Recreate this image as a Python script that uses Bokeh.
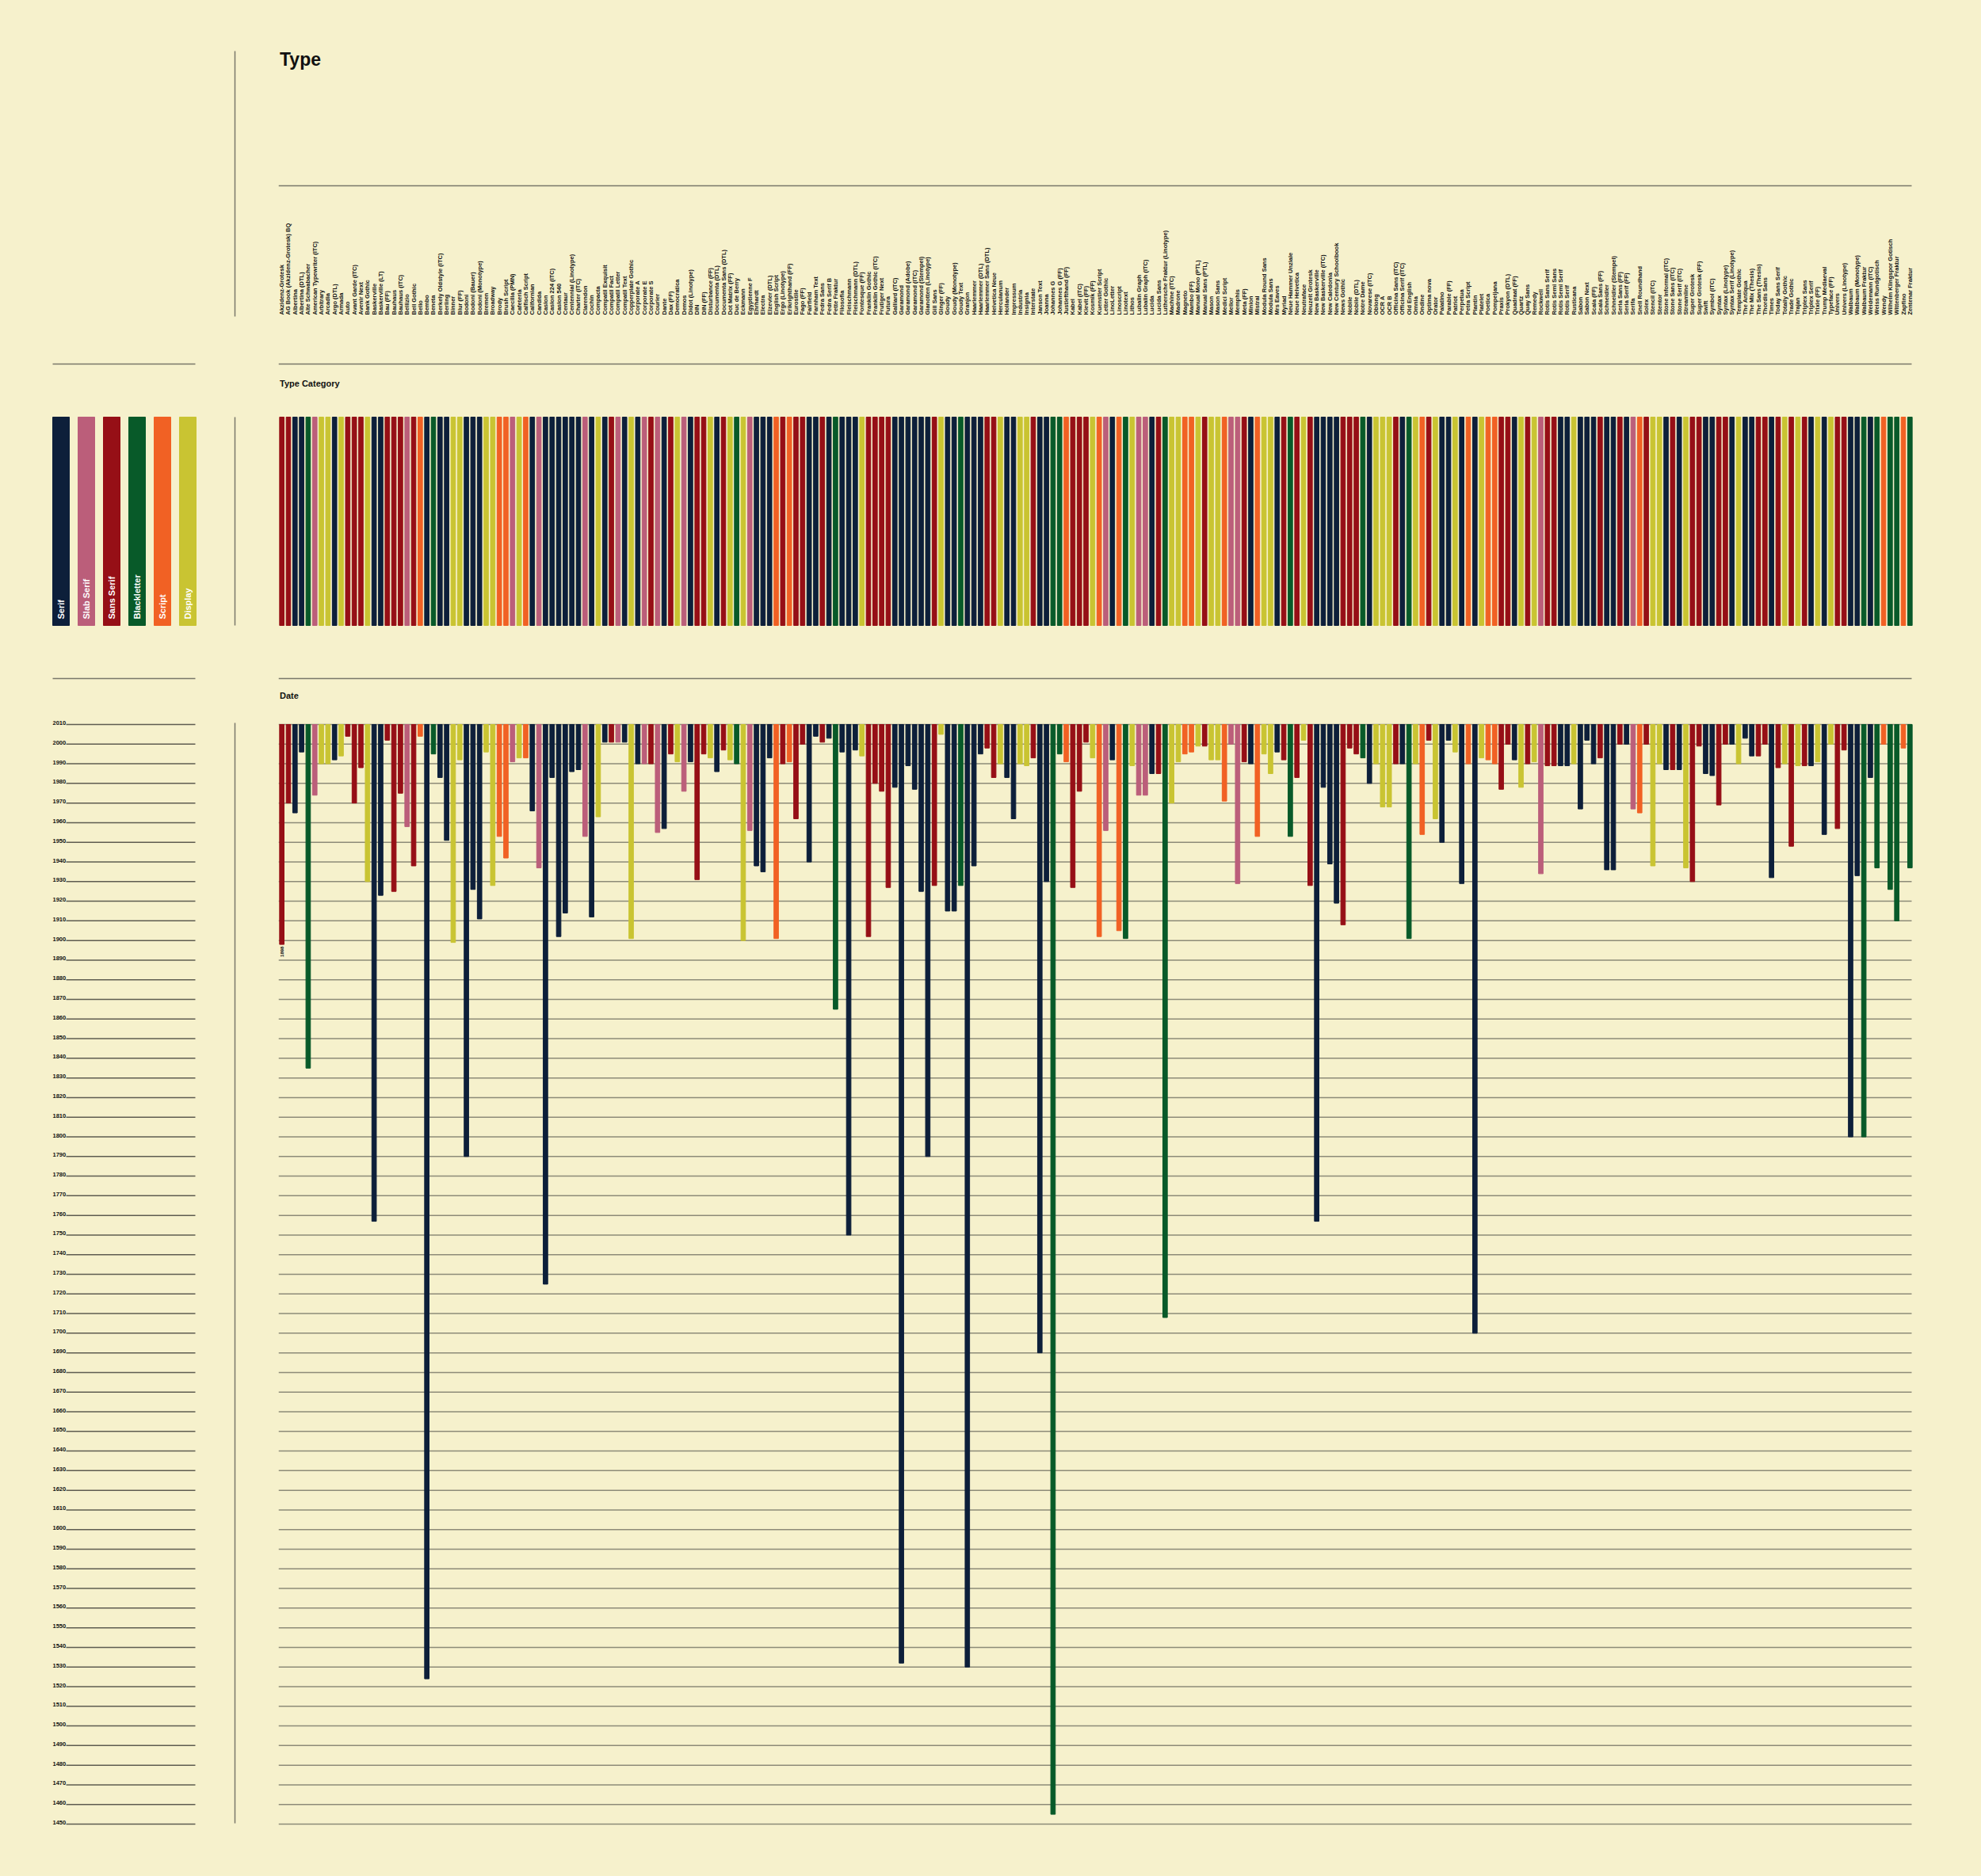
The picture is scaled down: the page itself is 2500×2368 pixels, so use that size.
import numpy as np
from bokeh.plotting import figure
from bokeh.layouts import column, row
from bokeh.models import Range1d, ColumnDataSource
from bokeh.embed import file_html
from bokeh.resources import INLINE
from bokeh.core.properties import value

BG = "#f6f1cc"
INK = "#111111"
RULE = "#7a786a"
FONT = value("Liberation Sans")

names = [
"Akzidenz-Grotesk","AG Book (Akzidenz-Grotesk) BQ","Albertina","Albertina (DTL)","Alte Schwabacher","American Typewriter (ITC)","Arbitrary","Arcadia","Argo (DTL)","Armada",
"Auto","Avant Garde (ITC)","Avenir Next","Bank Gothic","Baskerville","Baskerville (LT)","Bau (FF)","Bauhaus","Bauhaus (ITC)","Bellizio",
"Bell Gothic","Bello","Bembo","Beneta","Berkely Oldstyle (ITC)","Berling","Binner","Blur (FF)","Bodoni","Bodoni (Bauer)",
"Bodoni (Monotype)","Bremen","Broadway","Brody","Brush Script","Caecilia (PMN)","Cafeteria","Calfisch Script","Californian","Candida",
"Caslon","Caslon 224 (ITC)","Caslon 540","Centaur","Centennial (Linotype)","Charter (ITC)","Clarendon","Cochin","Compacta","Compatil Exquisit",
"Compatil Fact","Compatil Letter","Compatil Text","Copperplate Gothic","Corporate A","Corporate E","Corporate S","Courier","Dante","Dax (FF)",
"Democratica","Demos","Didot (Linotype)","DIN","DIN (FF)","Disturbance (FF)","Documenta (DTL)","Documenta Sans (DTL)","Dot Matrix (FF)","Duc de Berry",
"Eckmann","Egyptienne F","Ehrhardt","Electra","Elzevier (DTL)","English Script","Ergo (Linotype)","Erikrighthand (FF)","Eurostile","Fago (FF)",
"Fairfield","Farnham Text","Fedra Sans","Fedra Serif B","Fette Fraktur","Filosofia","Fleischmann","Fleischmann (DTL)","Fontesque (FF)","Franklin Gothic",
"Franklin Gothic (ITC)","Frutiger Next","Futura","Galliard (ITC)","Garamond","Garamond (Adobe)","Garamond (ITC)","Garamond (Stempel)","Gianotten (Linotype)","Gill Sans",
"Ginger (FF)","Goudy","Goudy (Monotype)","Goudy Text","Granjon","Haarlemmer","Haarlemmer (DTL)","Haarlemmer Sans (DTL)","Helvetica Neue","Herculanum",
"Hollander","Impressum","Industria","Insignia","Interstate","Janson Text","Joanna","Johannes G","Johannes G (FF)","Justlefthand (FF)",
"Kabel","Kabel (ITC)","Kievit (FF)","Kosmik (FF)","Kuenstler Script","Letter Gothic","LinoLetter","Linoscript","Linotext","Lithos",
"Lubalin Graph","Lubalin Graph (ITC)","Lucida","Lucida Sans","Luthersche Fraktur (Linotype)","Machine (ITC)","Madrone","Magneto","Mambo (FF)","Manual Mono (PTL)",
"Manual Sans (PTL)","Mason","Mason Sans","Medici Script","Mellor","Memphis","Meta (FF)","Minion","Mistral","Modula Round Sans",
"Modula Sans","Mrs Eaves","Myriad","Neue Hammer Unziale","Neue Helvetica","Neutraface","Neuzeit Grotesk","New Baskerville","New Baskerville (ITC)","New Caledonia",
"New Century Schoolbook","News Gothic","Nobile","Nobile (DTL)","Notre Dame","Novarese (ITC)","Oblong","OCR A","OCR B","Officina Sans (ITC)",
"Officina Serif (ITC)","Old English","Omnia","Ondine","Optima nova","Orator","Palatino","Parable (FF)","Patriot","Perpetua",
"Petra Script","Plantin","Platelet","Poetica","Pompeijana","Praxis","Prokyon (DTL)","Quadraat (FF)","Quartz","Quay Sans",
"Remedy","Rockwell","Rotis Sans Serif","Rotis Semi Sans","Rotis Semi Serif","Rotis Serif","Rusticana","Sabon","Sabon Next","Scala (FF)",
"Scala Sans (FF)","Schneidler","Schneidler (Stempel)","Seria Sans (FF)","Seria Serif (FF)","Serifa","Snell Roundhand","Solex","Stencil (ITC)","Stentor",
"Stone Informal (ITC)","Stone Sans (ITC)","Stone Serif (ITC)","Streamline","Super Grotesk","Super Grotesk (FF)","Swift","Symbol (ITC)","Syntax","Syntax (Linotype)",
"Syntax Serif (Linotype)","Template Gothic","The Antiqua","The Mix (Thesis)","The Sans (Thesis)","Thordis Sans","Times","Today Sans Serif","Totally Gothic","Trade Gothic",
"Trajan","Triplex Sans","Triplex Serif","Trixie (FF)","Trump Mediaeval","Typeface (FF)","Univers","Univers (Linotype)","Walbaum","Walbaum (Monotype)",
"Walbaum Fraktur","Weidemann (ITC)","Weiss Rundgotisch","Wendy","Wilhelm Klingspor Gotisch","Wittenberger Fraktur","Zapfino","Zentenar Fraktur",
]

# category codes: Se Serif, Sl Slab Serif, Sa Sans Serif, Bl Blackletter, Sc Script, Di Display
category_codes = (
"Sa Sa Se Se Bl Sl Di Di Se Di "
"Sa Sa Sa Di Se Se Sa Sa Sa Sl "
"Sa Sc Se Bl Se Se Di Di Se Se "
"Se Di Di Sc Sc Sl Di Sc Se Sl "
"Se Se Se Se Se Se Sl Se Di Se "
"Sa Sl Se Di Se Sl Sa Sl Se Sa "
"Di Sl Se Sa Sa Di Se Sa Di Bl "
"Di Sl Se Se Se Sc Sa Sc Sa Sa "
"Se Se Sa Se Bl Se Se Se Di Sa "
"Sa Sa Sa Se Se Se Se Se Se Sa "
"Di Se Se Bl Se Se Se Sa Sa Di "
"Se Se Di Di Sa Se Se Bl Bl Sc "
"Sa Sa Sa Di Sc Sl Se Sc Bl Di "
"Sl Sl Se Sa Bl Di Di Sc Sc Di "
"Sa Di Di Sc Sl Sl Sa Se Sc Di "
"Di Se Sa Bl Sa Di Sa Se Se Se "
"Se Sa Sa Sa Bl Se Di Di Di Sa "
"Se Bl Di Sc Sa Di Se Se Di Se "
"Sc Se Di Sc Sc Sa Sa Se Di Sa "
"Di Sl Sa Sa Se Se Di Se Se Se "
"Sa Se Se Sa Se Sl Sc Sa Di Di "
"Se Sa Se Di Sa Sa Se Se Sa Sa "
"Se Di Se Se Sa Sa Se Sa Di Sa "
"Di Sa Se Di Se Di Sa Sa Se Se "
"Bl Se Bl Sc Bl Bl Sc Bl"
).split()

years = [
1898,1970,1965,1996,1835,1974,1990,1990,1992,1994,
2004,1970,1988,1930,1757,1923,2002,1925,1975,1958,
1938,2004,1524,1995,1983,1951,1899,1992,1790,1926,
1911,1996,1928,1953,1942,1991,1993,1993,1966,1937,
1725,1983,1902,1914,1986,1987,1953,1912,1963,2001,
2001,2001,2001,1901,1990,1990,1990,1955,1957,1995,
1991,1976,1991,1931,1995,1993,1986,1997,1992,1990,
1900,1956,1938,1935,1993,1901,1990,1991,1962,2000,
1940,2004,2001,2003,1865,1996,1750,1997,1994,1902,
1980,1976,1927,1978,1532,1989,1977,1925,1790,1928,
2005,1915,1915,1928,1530,1938,1995,1998,1983,1990,
1983,1962,1990,1989,1993,1690,1930,1455,1995,1991,
1927,1976,2001,1993,1902,1956,1992,1905,1901,1989,
1974,1974,1985,1985,1708,1970,1991,1995,1996,1999,
1999,1992,1992,1971,2000,1929,1991,1990,1953,1995,
1985,1996,1992,1953,1983,2002,1928,1757,1978,1939,
1919,1908,1998,1995,1993,1980,1990,1968,1968,1990,
1990,1901,1990,1954,2002,1962,1950,2002,1996,1929,
1990,1700,1993,1992,1990,1977,2000,1992,1978,1990,
1991,1934,1989,1989,1989,1989,1990,1967,2002,1990,
1993,1936,1936,2000,2000,1967,1965,2000,1938,1990,
1987,1987,1987,1937,1930,1999,1985,1984,1969,2000,
2000,1990,2003,1994,1994,2000,1932,1988,1990,1948,
1989,1989,1989,1991,1954,2000,1957,1997,1800,1933,
1800,1983,1937,2000,1926,1910,1998,1937,
]

cat_codes = ["Se", "Sl", "Sa", "Bl", "Sc", "Di"]
cat_labels = ["Serif", "Slab Serif", "Sans Serif", "Blackletter", "Script", "Display"]
cat_colors = ["#0d1f3a", "#bb5e7a", "#960f16", "#085a29", "#f16124", "#c9c432"]

tick_years = list(range(1450, 2011, 10))
tick_labels = [str(t) for t in tick_years]
top_year = 2010

n = len(names)
color_of = dict(zip(cat_codes, cat_colors))
src = ColumnDataSource(dict(
    x=list(range(n)),
    name=names,
    year=years,
    color=[color_of[c] for c in category_codes],
))

# ---------------- layout geometry (page pixels, page origin at 0,0) ----------------
LW, RW = 298, 2202
HA, HB, HC = 440, 390, 1538
A0, B0, C0 = 0, 440, 830
RB_L = 53                     # right figure left border -> frame starts at page x 351
FRAME_W = 2063
RB_R = RW - RB_L - FRAME_W
XR = (-0.5, n - 0.5)
X_END_LINE = n - 0.5 - 2.0 / (FRAME_W / n)
TX = -0.32                    # x of section titles (data units)


def make_fig(w, h, xr, yr, bl=0, br=0):
    p = figure(width=w, height=h, x_range=Range1d(*xr), y_range=Range1d(*yr),
               output_backend="svg", toolbar_location=None,
               x_axis_location=None, y_axis_location=None,
               min_border_left=bl, min_border_right=br,
               min_border_top=0, min_border_bottom=0)
    p.grid.visible = False
    p.outline_line_color = None
    p.background_fill_color = BG
    p.border_fill_color = BG
    return p


# ---------------- Band A : names ----------------
yA = (A0 + HA, A0)   # page y coordinates (flipped)
leftA = make_fig(LW, HA, (0, LW), yA)
leftA.segment(x0=[296], x1=[296], y0=[64], y1=[399], line_color=RULE, line_width=1.5)

rightA = make_fig(RW, HA, XR, yA, RB_L, RB_R)
rightA.text(x=[TX], y=[74], text=["Type"], text_font=FONT, text_font_style="bold",
            text_font_size="23px", text_color=INK, text_baseline="middle")
rightA.segment(x0=[XR[0]], x1=[X_END_LINE], y0=[234], y1=[234], line_color=RULE, line_width=1.5)
rightA.text(x="x", y=397, text="name", source=src, angle=np.pi / 2,
            text_font=FONT, text_font_style="bold", text_font_size="7.5px",
            text_color=INK, text_align="left", text_baseline="middle")

# ---------------- Band B : category strip ----------------
b_top_pg, b_bot_pg = 526.0, 789.0
b_scale = b_bot_pg - b_top_pg
yB = ((b_bot_pg - (B0 + HB)) / b_scale, (b_bot_pg - B0) / b_scale)
sepB = (b_bot_pg - 459) / b_scale

leg_x0, leg_pitch = 76.5, 32.0
leftB = make_fig(LW, HB, ((0 - leg_x0) / leg_pitch, (LW - leg_x0) / leg_pitch), yB)
leftB.segment(x0=[(66 - leg_x0) / leg_pitch], x1=[(246 - leg_x0) / leg_pitch], y0=[sepB], y1=[sepB],
              line_color=RULE, line_width=1.5)
leftB.segment(x0=[(296 - leg_x0) / leg_pitch], x1=[(296 - leg_x0) / leg_pitch], y0=[0], y1=[1],
              line_color=RULE, line_width=1.5)
leg_src = ColumnDataSource(dict(x=list(range(len(cat_labels))), label=cat_labels, color=cat_colors))
leftB.vbar(x="x", width=21 / leg_pitch, top=1, bottom=0, color="color", source=leg_src)
leftB.text(x="x", y=(b_bot_pg - 781) / b_scale, text="label", source=leg_src, angle=np.pi / 2,
           text_font=FONT, text_font_style="bold", text_font_size="11px", text_color="white",
           text_align="left", text_baseline="middle")

rightB = make_fig(RW, HB, XR, yB, RB_L, RB_R)
rightB.segment(x0=[XR[0]], x1=[X_END_LINE], y0=[sepB], y1=[sepB], line_color=RULE, line_width=1.5)
rightB.text(x=[TX], y=[(b_bot_pg - 483) / b_scale], text=["Type Category"], text_font=FONT,
            text_font_style="bold", text_font_size="11px", text_color=INK, text_baseline="middle")
rightB.vbar(x="x", width=0.68, top=1, bottom=0, color="color", source=src)

# ---------------- Band C : dates ----------------
pg2010, pg1450 = 914.0, 2302.0
ppy = (pg1450 - pg2010) / (2010 - 1450)
def yr_at(pg):
    return 2010 - (pg - pg2010) / ppy
yC = (yr_at(C0 + HC), yr_at(C0))
sepC = yr_at(856)

leftC = make_fig(LW, HC, (0, LW), yC)
leftC.segment(x0=[66], x1=[246], y0=[sepC], y1=[sepC], line_color=RULE, line_width=1.5)
leftC.segment(x0=[296], x1=[296], y0=[yr_at(912)], y1=[yr_at(2301)], line_color=RULE, line_width=1.5)
leftC.segment(x0=83, x1=246, y0=tick_years, y1=tick_years, line_color="#5e5c50", line_width=1.5)
leftC.text(x=66, y=[t + 2.0 / ppy for t in tick_years], text=tick_labels, text_font=FONT,
           text_font_style="bold", text_font_size="7.5px", text_color=INK,
           text_align="left", text_baseline="middle")

rightC = make_fig(RW, HC, XR, yC, RB_L, RB_R)
rightC.segment(x0=[XR[0]], x1=[X_END_LINE], y0=[sepC], y1=[sepC], line_color=RULE, line_width=1.5)
rightC.text(x=[TX], y=[yr_at(877.5)], text=["Date"], text_font=FONT, text_font_style="bold",
            text_font_size="11px", text_color=INK, text_baseline="middle")
rightC.segment(x0=XR[0], x1=X_END_LINE, y0=tick_years, y1=tick_years, line_color="#8d8b78", line_width=1.5)
rightC.vbar(x="x", width=0.68, top=top_year, bottom="year", color="color", source=src)
# value label under the first bar
rightC.text(x=[0], y=[years[0] - 1.0], text=[str(years[0])], angle=np.pi / 2,
            text_font=FONT, text_font_style="bold", text_font_size="6px", text_color=INK,
            text_align="right", text_baseline="middle")

layout = column(row(leftA, rightA), row(leftB, rightB), row(leftC, rightC))

html = file_html(layout, INLINE)
style = "<style>html, body { background-color: %s !important; margin: 0; }</style>" % BG
if "</head>" in html:
    html = html.replace("</head>", style + "</head>", 1)
else:
    html = style + html
open("out.html", "w").write(html)
